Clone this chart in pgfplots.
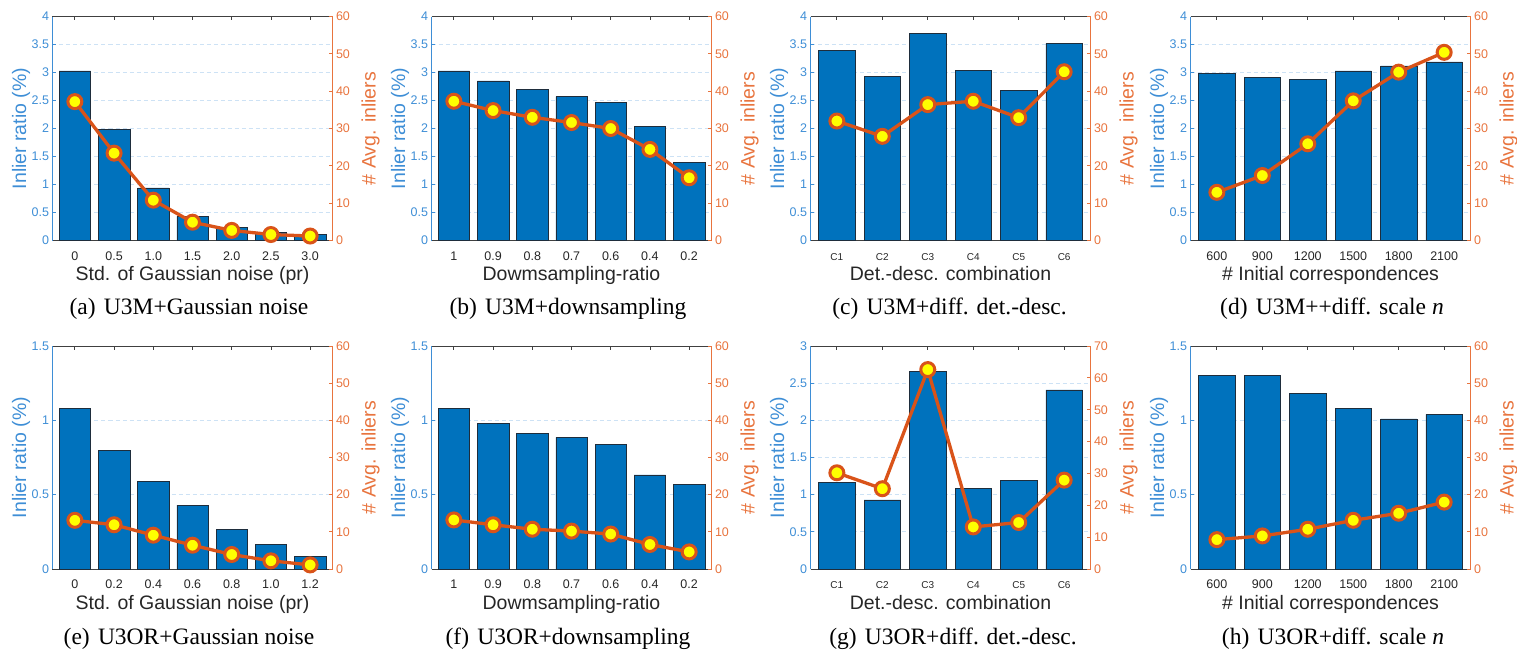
\documentclass[border=0pt]{standalone}
\usepackage{fontspec}
\setmainfont{Liberation Serif}
\setsansfont{Liberation Sans}
\usepackage{pgfplots}
\usepackage{pgfplotstable}
\pgfplotsset{compat=1.18}

\definecolor{barblue}{RGB}{0,114,189}
\definecolor{baredge}{RGB}{30,45,60}
\definecolor{leftblue}{RGB}{62,142,214}
\definecolor{rightorange}{RGB}{232,116,62}
\definecolor{lineorange}{RGB}{217,83,25}
\definecolor{markyellow}{RGB}{255,255,0}
\definecolor{gridblue}{RGB}{205,226,245}
\definecolor{axgray}{RGB}{64,64,64}
\definecolor{txtgray}{RGB}{38,38,38}

\newcommand\tickfont{\sffamily\fontsize{12.5}{13}\selectfont}
\newcommand\smalltickfont{\sffamily\fontsize{10}{11}\selectfont}
\newcommand\labfont{\sffamily\fontsize{19.5}{20}\selectfont}
\newcommand\capfont{\rmfamily\fontsize{23.5}{24}\selectfont}

\pgfplotsset{
  barax/.style={
    scale only axis, width=280pt, anchor=north west,
    ymin=0,
    separate axis lines,
    x axis line style={draw=axgray, line width=1pt},
    y axis line style={draw=leftblue, line width=1pt},
    xtick pos=upper, xticklabel pos=lower,
    ytick pos=left,
    tick align=inside,
    major tick length=3.5pt,
    x tick style={draw=axgray, line width=0.8pt},
    y tick style={draw=leftblue, line width=0.8pt},
    /pgf/number format/assume math mode=true,
    xticklabel style={font=\tickfont, text=txtgray, anchor=base, yshift=-19.5pt},
    yticklabel style={font=\tickfont, text=leftblue},
    ymajorgrids,
    grid style={draw=gridblue, line width=1pt, dash pattern=on 4pt off 3pt},
    xlabel style={font=\labfont, text=txtgray, at={(axis description cs:0.5,0)}, anchor=base, yshift=-40pt},
    ylabel style={font=\labfont, text=leftblue, at={(axis description cs:-0.0946,0.5)}, anchor=base},
    ylabel={Inlier ratio (\%)},
  },
  lineax/.style={
    scale only axis, width=280pt, anchor=north west,
    ymin=0, clip=false,
    axis x line=none, axis y line*=right,
    xtick=\empty,
    y axis line style={draw=rightorange, line width=1pt},
    ytick pos=right,
    tick align=inside,
    major tick length=3.5pt,
    y tick style={draw=rightorange, line width=0.8pt},
    /pgf/number format/assume math mode=true,
    yticklabel style={font=\tickfont, text=rightorange},
    ylabel style={font=\labfont, text=rightorange, at={(axis description cs:1.154,0.5)}, anchor=base},
    ylabel={\# Avg. inliers},
  },
  sevencat/.style={xmin=-0.57, xmax=6.57, xtick={0,...,6}},
  sixcat/.style={xmin=-0.58, xmax=5.58, xtick={0,...,5}},
  toprow/.style={height=224pt},
  botrow/.style={height=223pt},
  leftfour/.style={ymax=4, ytick={0,0.5,1,1.5,2,2.5,3,3.5,4}},
  leftonefive/.style={ymax=1.5, ytick={0,0.5,1,1.5}},
  leftthree/.style={ymax=3, ytick={0,0.5,1,1.5,2,2.5,3}},
  rightsixty/.style={ymax=60, ytick={0,10,20,30,40,50,60}},
  rightseventy/.style={ymax=70, ytick={0,10,20,30,40,50,60,70}},
  ratiobars/.style={ybar, bar width=0.8, bar shift=0pt, fill=barblue, draw=baredge, line width=0.5pt},
  avgline/.style={color=lineorange, line width=3.3pt, mark=*, mark size=7pt,
    mark options={fill=markyellow, draw=lineorange, line width=3pt}},
}

% inlier ratio (%) and average number of inliers per setting
\pgfplotstableread{
x bar avg
0 3.03 37.2
1 1.98 23.4
2 0.94 10.8
3 0.43 4.9
4 0.24 2.7
5 0.14 1.6
6 0.11 1.2
}\tabA
\pgfplotstableread{
x bar avg
0 3.03 37.3
1 2.85 34.8
2 2.70 33.0
3 2.57 31.6
4 2.46 30.0
5 2.04 24.4
6 1.40 16.8
}\tabB
\pgfplotstableread{
x bar avg
0 3.39 32.0
1 2.93 27.9
2 3.70 36.4
3 3.04 37.3
4 2.68 32.9
5 3.52 45.2
}\tabC
\pgfplotstableread{
x bar avg
0 2.99 12.9
1 2.91 17.4
2 2.88 25.9
3 3.03 37.4
4 3.12 45.1
5 3.19 50.4
}\tabD
\pgfplotstableread{
x bar avg
0 1.08 13.1
1 0.80 11.9
2 0.59 9.1
3 0.43 6.4
4 0.265 3.9
5 0.165 2.2
6 0.085 1.1
}\tabE
\pgfplotstableread{
x bar avg
0 1.08 13.2
1 0.98 11.9
2 0.91 10.7
3 0.885 10.2
4 0.84 9.4
5 0.633 6.6
6 0.568 4.6
}\tabF
\pgfplotstableread{
x bar avg
0 1.17 30.2
1 0.93 25.2
2 2.66 62.6
3 1.08 13.2
4 1.19 14.6
5 2.41 27.9
}\tabG
\pgfplotstableread{
x bar avg
0 1.30 7.9
1 1.30 8.9
2 1.18 10.7
3 1.08 13.1
4 1.01 15.0
5 1.04 18.0
}\tabH

\begin{document}
\begin{tikzpicture}
\path[use as bounding box] (0,0) rectangle (1517pt,-653pt);

% ---------- (a) ----------
\begin{axis}[barax, toprow, sevencat, leftfour, at={(52.5pt,-16.5pt)},
  xticklabels={0,0.5,1.0,1.5,2.0,2.5,3.0}, xlabel={Std. of Gaussian noise (pr)}]
\addplot[ratiobars] table[x=x, y=bar] {\tabA};
\end{axis}
\begin{axis}[lineax, toprow, xmin=-0.57, xmax=6.57, rightsixty, at={(52.5pt,-16.5pt)}]
\addplot[avgline] table[x=x, y=avg] {\tabA};
\end{axis}

% ---------- (b) ----------
\begin{axis}[barax, toprow, sevencat, leftfour, at={(431.5pt,-16.5pt)},
  xticklabels={1,0.9,0.8,0.7,0.6,0.4,0.2}, xlabel={Dowmsampling-ratio}]
\addplot[ratiobars] table[x=x, y=bar] {\tabB};
\end{axis}
\begin{axis}[lineax, toprow, xmin=-0.57, xmax=6.57, rightsixty, at={(431.5pt,-16.5pt)}]
\addplot[avgline] table[x=x, y=avg] {\tabB};
\end{axis}

% ---------- (c) ----------
\begin{axis}[barax, toprow, sixcat, leftfour, at={(810.5pt,-16.5pt)},
  xticklabels={C1,C2,C3,C4,C5,C6}, xticklabel style={font=\smalltickfont},
  xlabel={Det.-desc. combination}]
\addplot[ratiobars] table[x=x, y=bar] {\tabC};
\end{axis}
\begin{axis}[lineax, toprow, xmin=-0.58, xmax=5.58, rightsixty, at={(810.5pt,-16.5pt)}]
\addplot[avgline] table[x=x, y=avg] {\tabC};
\end{axis}

% ---------- (d) ----------
\begin{axis}[barax, toprow, sixcat, leftfour, at={(1190.5pt,-16.5pt)},
  xticklabels={600,900,1200,1500,1800,2100}, xlabel={\# Initial correspondences}]
\addplot[ratiobars] table[x=x, y=bar] {\tabD};
\end{axis}
\begin{axis}[lineax, toprow, xmin=-0.58, xmax=5.58, rightsixty, at={(1190.5pt,-16.5pt)}]
\addplot[avgline] table[x=x, y=avg] {\tabD};
\end{axis}

% ---------- (e) ----------
\begin{axis}[barax, botrow, sevencat, leftonefive, at={(52.5pt,-346pt)},
  xticklabels={0,0.2,0.4,0.6,0.8,1.0,1.2}, xlabel={Std. of Gaussian noise (pr)}]
\addplot[ratiobars] table[x=x, y=bar] {\tabE};
\end{axis}
\begin{axis}[lineax, botrow, xmin=-0.57, xmax=6.57, rightsixty, at={(52.5pt,-346pt)}]
\addplot[avgline] table[x=x, y=avg] {\tabE};
\end{axis}

% ---------- (f) ----------
\begin{axis}[barax, botrow, sevencat, leftonefive, at={(431.5pt,-346pt)},
  xticklabels={1,0.9,0.8,0.7,0.6,0.4,0.2}, xlabel={Dowmsampling-ratio}]
\addplot[ratiobars] table[x=x, y=bar] {\tabF};
\end{axis}
\begin{axis}[lineax, botrow, xmin=-0.57, xmax=6.57, rightsixty, at={(431.5pt,-346pt)}]
\addplot[avgline] table[x=x, y=avg] {\tabF};
\end{axis}

% ---------- (g) ----------
\begin{axis}[barax, botrow, sixcat, leftthree, at={(810.5pt,-346pt)},
  xticklabels={C1,C2,C3,C4,C5,C6}, xticklabel style={font=\smalltickfont},
  xlabel={Det.-desc. combination}]
\addplot[ratiobars] table[x=x, y=bar] {\tabG};
\end{axis}
\begin{axis}[lineax, botrow, xmin=-0.58, xmax=5.58, rightseventy, at={(810.5pt,-346pt)}]
\addplot[avgline] table[x=x, y=avg] {\tabG};
\end{axis}

% ---------- (h) ----------
\begin{axis}[barax, botrow, sixcat, leftonefive, at={(1190.5pt,-346pt)},
  xticklabels={600,900,1200,1500,1800,2100}, xlabel={\# Initial correspondences}]
\addplot[ratiobars] table[x=x, y=bar] {\tabH};
\end{axis}
\begin{axis}[lineax, botrow, xmin=-0.58, xmax=5.58, rightsixty, at={(1190.5pt,-346pt)}]
\addplot[avgline] table[x=x, y=avg] {\tabH};
\end{axis}

% sub-figure captions
\node[font=\capfont, anchor=base] at (189pt,-314pt) {(a)\hspace{0.35em}U3M+Gaussian noise};
\node[font=\capfont, anchor=base] at (568pt,-314pt) {(b)\hspace{0.35em}U3M+downsampling};
\node[font=\capfont, anchor=base] at (949.5pt,-314pt) {(c)\hspace{0.35em}U3M+diff. det.-desc.};
\node[font=\capfont, anchor=base] at (1332pt,-314pt) {(d)\hspace{0.35em}U3M++diff. scale \textit{n}};
\node[font=\capfont, anchor=base] at (189pt,-644pt) {(e)\hspace{0.35em}U3OR+Gaussian noise};
\node[font=\capfont, anchor=base] at (568pt,-644pt) {(f)\hspace{0.35em}U3OR+downsampling};
\node[font=\capfont, anchor=base] at (953pt,-644pt) {(g)\hspace{0.35em}U3OR+diff. det.-desc.};
\node[font=\capfont, anchor=base] at (1333pt,-644pt) {(h)\hspace{0.35em}U3OR+diff. scale \textit{n}};
\end{tikzpicture}
\end{document}
